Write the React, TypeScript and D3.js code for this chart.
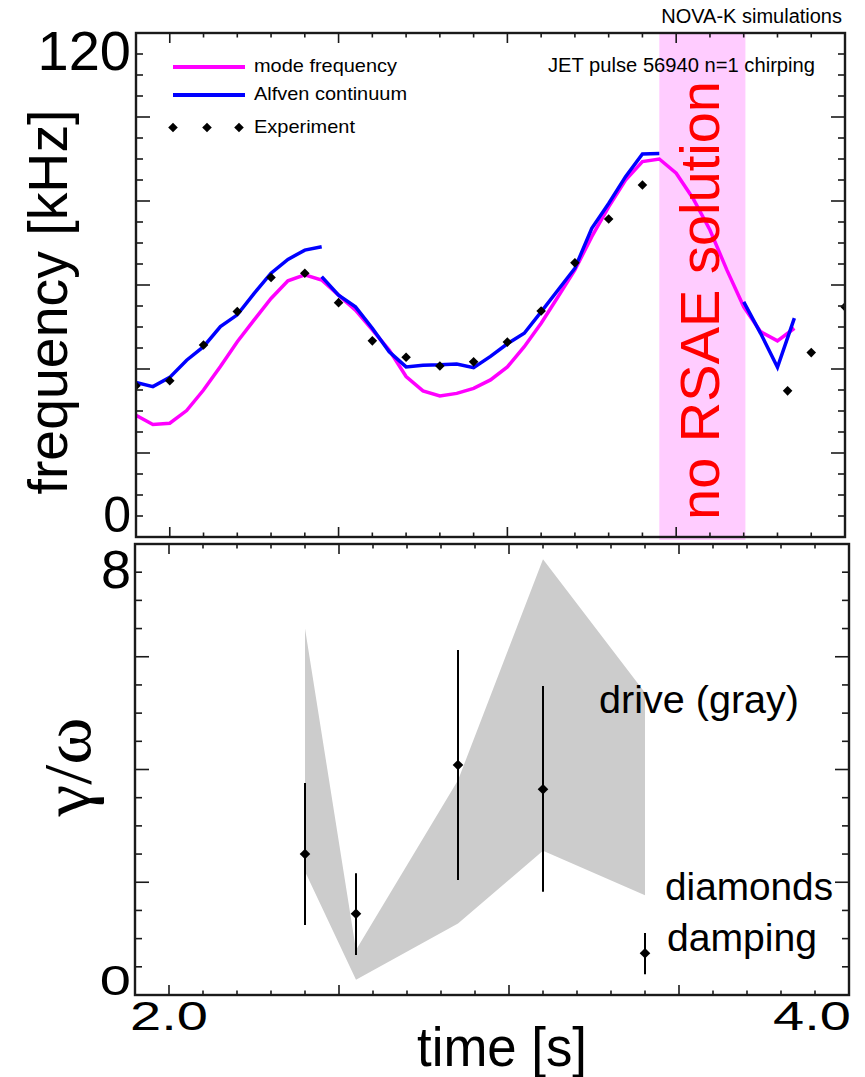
import React, { useRef, useEffect } from "react";
import * as d3 from "d3";

// NOVA-K mode frequency (kHz) sampled every 50 ms
const modeTimes = [1.9, 1.95, 2.0, 2.05, 2.1, 2.15, 2.2, 2.25, 2.3, 2.35, 2.4, 2.45, 2.5, 2.55, 2.6, 2.65, 2.7, 2.75, 2.8, 2.85, 2.9, 2.95, 3.0, 3.05, 3.1, 3.15, 3.2, 3.25, 3.3, 3.35, 3.4, 3.45, 3.5, 3.55, 3.6, 3.65, 3.7, 3.75, 3.8, 3.85];
const modeFreq = [29.0, 26.8, 27.1, 30.1, 35.0, 40.6, 46.5, 51.7, 56.8, 61.0, 62.4, 61.2, 57.6, 54.0, 49.3, 44.5, 38.2, 34.8, 33.6, 34.2, 35.4, 37.4, 40.5, 45.3, 50.9, 57.2, 63.6, 71.5, 78.6, 85.0, 89.4, 90.0, 86.6, 80.6, 73.1, 63.6, 54.8, 48.9, 46.7, 49.7];

// Alfven continuum, three separate pieces
const alfvenTimes1 = [1.9, 1.95, 2.0, 2.05, 2.1, 2.15, 2.2, 2.25, 2.3, 2.35, 2.4, 2.45];
const alfvenFreq1 = [36.8, 35.8, 38.0, 42.1, 45.3, 50.1, 52.9, 58.0, 62.8, 66.1, 68.3, 69.1];
const alfvenTimes2 = [2.45, 2.5, 2.55, 2.6, 2.65, 2.7, 2.75, 2.8, 2.85, 2.9, 2.95, 3.0, 3.05, 3.1, 3.15, 3.2, 3.25, 3.3, 3.35, 3.4, 3.45];
const alfvenFreq2 = [62.0, 57.6, 54.8, 49.7, 44.1, 40.5, 40.9, 41.0, 41.2, 40.3, 43.0, 46.0, 48.5, 53.6, 58.8, 64.0, 73.5, 79.4, 85.8, 91.2, 91.3];
const alfvenTimes3 = [3.7, 3.75, 3.8, 3.85];
const alfvenFreq3 = [56.0, 48.5, 40.4, 52.1];

// measured frequency
const expTimes = [1.9, 2.0, 2.1, 2.2, 2.3, 2.4, 2.5, 2.6, 2.7, 2.8, 2.9, 3.0, 3.1, 3.2, 3.3, 3.4, 3.83, 3.9, 4.0];
const expFreq = [36.0, 37.2, 45.7, 53.7, 61.8, 62.8, 55.8, 46.7, 42.8, 40.7, 41.7, 46.4, 53.8, 65.3, 75.7, 83.8, 34.8, 43.9, 54.8];

// no RSAE solution window
const noSolution = [3.45, 3.705];

// drive band (gray)
const driveTimes = [2.4, 2.55, 2.85, 3.1, 3.4];
const driveLow = [2.19, 0.27, 1.27, 2.56, 1.77];
const driveHigh = [6.5, 0.8, 3.81, 7.73, 5.36];

// damping (diamonds with error bars)
const dampTimes = [2.4, 2.55, 2.85, 3.1, 3.4];
const dampValues = [2.5, 1.44, 4.08, 3.65, 0.74];
const dampLow = [1.24, 0.71, 2.04, 1.83, 0.37];
const dampHigh = [3.76, 2.16, 6.12, 5.48, 1.1];

const legendLabels = ["mode frequency", "Alfven continuum", "Experiment"];

const font = "'Liberation Sans', Arial, Helvetica, sans-serif";

export default function App() {
  const ref = useRef<SVGSVGElement>(null);

  useEffect(() => {
    draw();
  }, []);

  const diamond = (size: number) => d3.symbol().type(d3.symbolSquare).size(size)();

  const drawTicks = (g: any, x: any, y: any, xTicks: number[], yTicks: number[], isMajorX: (d: number) => boolean, isMajorY: (d: number) => boolean) => {
    const [x0, x1] = x.range();
    const [y0, y1] = y.range(); // y0 bottom, y1 top
    const ink = "#1a1a1a";
    xTicks.forEach(t => {
      const len = isMajorX(t) ? 10 : 4.5;
      g.append("line").attr("x1", x(t)).attr("x2", x(t)).attr("y1", y0).attr("y2", y0 - len).attr("stroke", ink).attr("stroke-width", 1.6);
      g.append("line").attr("x1", x(t)).attr("x2", x(t)).attr("y1", y1).attr("y2", y1 + len).attr("stroke", ink).attr("stroke-width", 1.6);
    });
    yTicks.forEach(v => {
      const len = isMajorY(v) ? 14 : 7;
      g.append("line").attr("x1", x0).attr("x2", x0 + len).attr("y1", y(v)).attr("y2", y(v)).attr("stroke", ink).attr("stroke-width", 1.6);
      g.append("line").attr("x1", x1).attr("x2", x1 - len).attr("y1", y(v)).attr("y2", y(v)).attr("stroke", ink).attr("stroke-width", 1.6);
    });
    g.append("rect")
      .attr("x", x0)
      .attr("y", y1)
      .attr("width", x1 - x0)
      .attr("height", y0 - y1)
      .attr("fill", "none")
      .attr("stroke", ink)
      .attr("stroke-width", 2.4);
  };

  const draw = () => {
    const svg = d3.select(ref.current);
    svg.selectAll("*").remove();

    const xTop = d3.scaleLinear().domain([1.9, 4.0]).range([136, 845]);
    const yTop = d3.scaleLinear().domain([0, 120]).range([537, 33]);
    const xBot = d3.scaleLinear().domain([1.9, 4.0]).range([135, 849]);
    const yBot = d3.scaleLinear().domain([0, 8]).range([995, 544]);

    const defs = svg.append("defs");
    defs.append("clipPath").attr("id", "clipTop").append("rect")
      .attr("x", 136).attr("y", 33).attr("width", 709).attr("height", 504);
    defs.append("clipPath").attr("id", "clipBot").append("rect")
      .attr("x", 135).attr("y", 544).attr("width", 714).attr("height", 451);

    // ---------- top panel ----------
    svg.append("rect")
      .attr("x", xTop(noSolution[0]))
      .attr("y", 33)
      .attr("width", xTop(noSolution[1]) - xTop(noSolution[0]))
      .attr("height", 507)
      .attr("fill", "#ffccff");

    const top = svg.append("g").attr("clip-path", "url(#clipTop)");

    const line = d3.line<[number, number]>()
      .x(d => xTop(d[0]))
      .y(d => yTop(d[1]));

    const pieces = [
      [alfvenTimes1, alfvenFreq1],
      [alfvenTimes2, alfvenFreq2],
      [alfvenTimes3, alfvenFreq3]
    ];

    top.append("path")
      .datum(modeTimes.map((t, i) => [t, modeFreq[i]] as [number, number]))
      .attr("d", line)
      .attr("fill", "none")
      .attr("stroke", "#ff00ff")
      .attr("stroke-width", 3.5);

    pieces.forEach(([ts, vs]) => {
      top.append("path")
        .datum(ts.map((t, i) => [t, vs[i]] as [number, number]))
        .attr("d", line)
        .attr("fill", "none")
        .attr("stroke", "#0000ff")
        .attr("stroke-width", 3.5);
    });

    top.selectAll(".exp")
      .data(expTimes)
      .enter()
      .append("path")
      .attr("d", diamond(46))
      .attr("transform", (t, i) => `translate(${xTop(t)},${yTop(expFreq[i])}) rotate(45)`)
      .attr("fill", "black");

    // band label
    svg.append("text")
      .attr("transform", `translate(${(xTop(noSolution[0]) + xTop(noSolution[1])) / 2 + 17}, 520) rotate(-90)`)
      .attr("font-family", font)
      .attr("font-size", 56)
      .attr("fill", "#ff0000")
      .text("no RSAE solution");

    // legend
    const legend = svg.append("g").attr("font-family", font).attr("font-size", 19).attr("fill", "black");
    legend.append("line").attr("x1", 173).attr("x2", 245).attr("y1", 67).attr("y2", 67).attr("stroke", "#ff00ff").attr("stroke-width", 4);
    legend.append("line").attr("x1", 173).attr("x2", 245).attr("y1", 95).attr("y2", 95).attr("stroke", "#0000ff").attr("stroke-width", 4);
    [173, 207, 239].forEach(x => {
      legend.append("path").attr("d", diamond(46)).attr("transform", `translate(${x},127.5) rotate(45)`).attr("fill", "black");
    });
    legend.selectAll("text")
      .data(legendLabels)
      .enter()
      .append("text")
      .attr("x", 254)
      .attr("y", (d, i) => [72, 100, 133][i])
      .attr("textLength", (d, i) => [143, 153, 101][i])
      .attr("lengthAdjust", "spacingAndGlyphs")
      .text(d => d);

    svg.append("text")
      .attr("x", 548)
      .attr("y", 72)
      .attr("font-family", font)
      .attr("font-size", 20)
      .attr("textLength", 267)
      .attr("lengthAdjust", "spacingAndGlyphs")
      .text("JET pulse 56940 n=1 chirping");

    svg.append("text")
      .attr("x", 842)
      .attr("y", 23)
      .attr("text-anchor", "end")
      .attr("font-family", font)
      .attr("font-size", 20)
      .text("NOVA-K simulations");

    const topAxes = svg.append("g");
    drawTicks(
      topAxes, xTop, yTop,
      d3.range(20, 40).map(d => d / 10),
      d3.range(5, 120, 5),
      t => Math.round(t * 10) % 5 === 0,
      v => v % 20 === 0
    );

    svg.append("text").attr("x", 131).attr("y", 70).attr("text-anchor", "end")
      .attr("font-family", font).attr("font-size", 56).text("120");
    svg.append("text").attr("x", 131).attr("y", 532).attr("text-anchor", "end")
      .attr("font-family", font).attr("font-size", 50).text("0");

    svg.append("text")
      .attr("transform", "translate(67,302) rotate(-90)")
      .attr("text-anchor", "middle")
      .attr("font-family", font)
      .attr("font-size", 56)
      .attr("textLength", 385)
      .attr("lengthAdjust", "spacingAndGlyphs")
      .text("frequency [kHz]");

    // ---------- bottom panel ----------
    const bot = svg.append("g").attr("clip-path", "url(#clipBot)");

    const area = d3.area<number>()
      .x(t => xBot(t))
      .y0((t, i) => yBot(driveLow[i]))
      .y1((t, i) => yBot(driveHigh[i]));

    bot.append("path")
      .datum(driveTimes)
      .attr("d", area)
      .attr("fill", "#cccccc");

    dampTimes.forEach((t, i) => {
      bot.append("line")
        .attr("x1", xBot(t)).attr("x2", xBot(t))
        .attr("y1", yBot(dampLow[i])).attr("y2", yBot(dampHigh[i]))
        .attr("stroke", "black").attr("stroke-width", 2);
      bot.append("path")
        .attr("d", diamond(56))
        .attr("transform", `translate(${xBot(t)},${yBot(dampValues[i])}) rotate(45)`)
        .attr("fill", "black");
    });

    const notes = svg.append("g").attr("font-family", font).attr("font-size", 38).attr("fill", "black");
    notes.append("text").attr("x", 599).attr("y", 713).attr("textLength", 200).attr("lengthAdjust", "spacingAndGlyphs").text("drive (gray)");
    notes.append("text").attr("x", 665).attr("y", 900).attr("textLength", 168).attr("lengthAdjust", "spacingAndGlyphs").text("diamonds");
    notes.append("text").attr("x", 667).attr("y", 951).attr("textLength", 150).attr("lengthAdjust", "spacingAndGlyphs").text("damping");

    const botAxes = svg.append("g");
    drawTicks(
      botAxes, xBot, yBot,
      d3.range(20, 40).map(d => d / 10),
      d3.range(0.5, 8, 0.5),
      t => Math.round(t * 10) % 5 === 0,
      v => v % 2 === 0
    );

    svg.append("text").attr("x", 131).attr("y", 588).attr("text-anchor", "end")
      .attr("font-family", font).attr("font-size", 54).text("8");
    svg.append("text").attr("transform", "translate(131,995) scale(1,0.75)").attr("text-anchor", "end")
      .attr("font-family", font).attr("font-size", 56).text("0");

    svg.append("text")
      .attr("transform", "translate(90,767) rotate(-90) scale(1,1.15)")
      .attr("text-anchor", "middle")
      .attr("font-family", "'Liberation Serif', 'DejaVu Serif', serif")
      .attr("font-size", 58)
      .attr("textLength", 99)
      .attr("lengthAdjust", "spacingAndGlyphs")
      .text("γ/ω");

    svg.append("text").attr("transform", `translate(${xBot(2.0)},1030) scale(1,0.72)`).attr("text-anchor", "middle")
      .attr("font-family", font).attr("font-size", 56).text("2.0");
    svg.append("text").attr("transform", "translate(812,1030) scale(1,0.72)").attr("text-anchor", "middle")
      .attr("font-family", font).attr("font-size", 56).text("4.0");

    svg.append("text")
      .attr("x", 502)
      .attr("y", 1066)
      .attr("text-anchor", "middle")
      .attr("font-family", font)
      .attr("font-size", 56)
      .attr("textLength", 170)
      .attr("lengthAdjust", "spacingAndGlyphs")
      .text("time [s]");
  };

  return (
    <svg
      ref={ref}
      width={865}
      height={1077}
      style={{ position: "absolute", left: 0, top: 0, background: "white" }}
    ></svg>
  );
}
